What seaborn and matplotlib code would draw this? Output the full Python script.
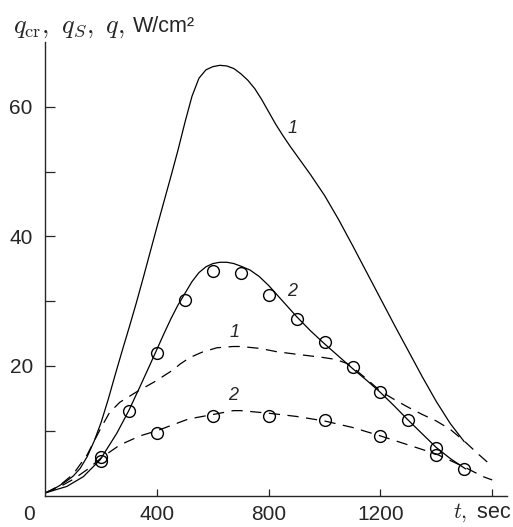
import numpy as np
import pandas as pd
import matplotlib
matplotlib.use("Agg")
import matplotlib.pyplot as plt
import seaborn as sns

# curve 1, solid (q_cr)
t_cr1 = [0, 25, 50, 75, 100, 125, 150, 175, 200, 225, 250, 275, 300, 325, 350, 375, 400, 425, 450,
         475, 500, 525, 550, 575, 600, 625, 650, 675, 700, 725, 750, 775, 800, 825, 850, 875, 900,
         950, 1000, 1050, 1100, 1150, 1200, 1250, 1300, 1350, 1400, 1450, 1500]
q_cr1 = [0.4, 0.9, 1.5, 2.2, 3.0, 4.2, 6.0, 8.4, 11.3, 14.8, 18.6, 22.3, 25.9, 29.6, 33.5, 37.5, 41.5,
         45.4, 49.3, 53.3, 57.6, 61.6, 64.4, 65.7, 66.2, 66.4, 66.3, 65.9, 65.1, 64.1, 62.8, 61.1, 59.2,
         57.3, 55.6, 54.0, 52.5, 49.5, 46.3, 42.6, 38.6, 34.5, 30.4, 26.3, 22.3, 18.3, 14.5, 11.1, 8.3]

# curve 2, solid (q_cr)
t_cr2 = [0, 77, 136, 196, 256, 300, 340, 375, 400, 425, 450, 475, 500, 525, 550, 575, 600, 625, 650,
         675, 700, 733, 766, 800, 850, 900, 950, 1000, 1050, 1100, 1150, 1200, 1250, 1300, 1350, 1400,
         1450, 1505]
q_cr2 = [0.4, 1.4, 2.9, 5.5, 9.6, 13.2, 16.9, 20.2, 22.6, 25.0, 27.3, 29.4, 31.2, 33.0, 34.4, 35.3, 35.8,
         36.0, 36.0, 35.8, 35.4, 34.8, 33.8, 32.4, 30.0, 27.6, 25.4, 23.4, 21.5, 19.6, 17.8, 15.9, 13.8,
         11.6, 9.5, 7.4, 5.7, 4.1]

# curve 1, dashed (q_S)
t_s1 = [0, 50, 100, 150, 200, 230, 267, 327, 393, 458, 483, 518, 560, 614, 673, 700, 769, 828, 900,
        995, 1040, 1079, 1100, 1150, 1200, 1250, 1300, 1350, 1400, 1450, 1500, 1550, 1600]
q_s1 = [0.4, 1.5, 3.3, 6.3, 10.5, 12.8, 14.4, 16.0, 17.6, 19.4, 20.3, 21.3, 22.1, 22.8, 23.0, 23.0, 22.7,
        22.2, 21.8, 21.3, 21.0, 20.4, 19.8, 18.0, 16.1, 14.8, 13.6, 12.5, 11.5, 10.2, 8.4, 6.4, 4.5]

# curve 2, dashed (q_S)
t_s2 = [0, 50, 100, 150, 200, 267, 339, 400, 512, 600, 673, 700, 800, 900, 1000, 1100, 1200, 1300,
        1400, 1500, 1568, 1600]
q_s2 = [0.4, 1.3, 2.5, 4.0, 5.8, 7.8, 9.2, 10.0, 11.8, 12.5, 13.1, 13.1, 12.7, 12.2, 11.5, 10.5, 9.2,
        7.8, 6.4, 4.4, 2.9, 2.4]

# measured q, circles
t_m1 = [200, 300, 400, 500, 600, 700, 800, 900, 1000, 1100, 1200, 1300, 1400, 1500]
q_m1 = [6.0, 13.0, 22.0, 30.2, 34.7, 34.3, 31.0, 27.3, 23.7, 19.8, 16.0, 11.7, 7.3, 4.1]
t_m2 = [200, 400, 600, 800, 1000, 1200, 1400]
q_m2 = [5.3, 9.6, 12.3, 12.3, 11.6, 9.2, 6.3]

x_ticks = [400, 800, 1200, 1600]
x_labels = ["400", "800", "1200", ""]
y_ticks = [20, 40, 60]

sns.set_style("ticks")
plt.rcParams["font.family"] = ["Liberation Sans", "DejaVu Sans"]
plt.rcParams["mathtext.fontset"] = "cm"

fig = plt.figure(figsize=(5.13, 5.27), dpi=100)
ax = fig.add_axes([45.3 / 513, 1 - 495.5 / 527, (507 - 45.3) / 513, (495.5 - 42) / 527])

lw = 0.9
sns.lineplot(x=t_cr1, y=q_cr1, ax=ax, color="black", lw=lw, sort=False, estimator=None)
sns.lineplot(x=t_cr2, y=q_cr2, ax=ax, color="black", lw=lw, sort=False, estimator=None)
for tt, qq in [(t_s1, q_s1), (t_s2, q_s2)]:
    sns.lineplot(x=tt, y=qq, ax=ax, color="black", lw=lw, sort=False, estimator=None,
                 dashes=False).lines[-1].set_dashes([9, 6])
for tt, qq in [(t_m1, q_m1), (t_m2, q_m2)]:
    ax.plot(tt, qq, ls="none", marker="o", ms=8.5, mfc="none", mec="black", mew=1.0)

ax.set_xlim(0, 1653)
ax.set_ylim(0, 70)
ax.set_xticks(x_ticks)
ax.set_xticklabels(x_labels)
ax.set_yticks(y_ticks)
ax.set_yticks([10, 30, 50], minor=True)
ax.tick_params(axis="x", direction="in", length=5, width=0.9, labelsize=15, pad=7)
ax.tick_params(axis="y", which="both", direction="in", length=7, width=0.9, labelsize=15, pad=9)
for s in ["left", "bottom"]:
    ax.spines[s].set_linewidth(1.0)
sns.despine(ax=ax)
ax.set_xlabel("")
ax.set_ylabel("")

# curve labels
lab = dict(fontsize=13, style="italic", ha="center", va="center")
ax.text(886, 56.6, "1", **lab)
ax.text(885, 31.5, "2", **lab)
ax.text(679, 25.1, "1", **lab)
ax.text(673, 15.4, "2", **lab)

fig.text(29 / 513, 1 - 514 / 527, "0", fontsize=15, ha="center", va="center")
fig.text(511 / 513, 1 - 513 / 527, r"$t,$ sec", fontsize=15.5, ha="right", va="center")
fig.text(13 / 513, 1 - 28 / 527, r"$q_{\rm cr},\ q_S,\ q,$", fontsize=19, ha="left", va="center")
fig.text(133 / 513, 1 - 26 / 527, "W/cm²", fontsize=15.5, ha="left", va="center")

fig.savefig("out.png", dpi=100)
